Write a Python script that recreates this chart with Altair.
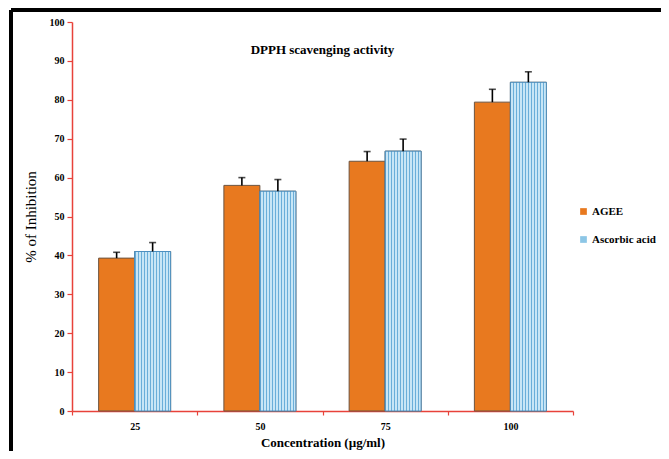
import altair as alt
import pandas as pd

conc = ["25", "50", "75", "100"]
agee = [39.3, 58.0, 64.2, 79.4]
agee_err = [1.5, 2.0, 2.5, 3.3]
asc = [41.0, 56.5, 66.8, 84.5]
asc_err = [2.3, 3.0, 3.1, 2.7]
series = ["AGEE", "Ascorbic acid"]

rows = []
for i, c in enumerate(conc):
    rows.append({"conc": c, "series": series[0], "val": agee[i], "top": agee[i] + agee_err[i]})
    rows.append({"conc": c, "series": series[1], "val": asc[i], "top": asc[i] + asc_err[i]})
df = pd.DataFrame(rows)

RED = "#E8423A"
ORANGE = "#E8791F"
BLUE = "#8CC6E6"
SERIF = "Liberation Serif"

# vertical stripe gradient for the grid-patterned bars
stops = []
n = 12
for i in range(n):
    a = i / n
    b = (i + 0.35) / n
    c = (i + 1) / n
    stops += [
        {"offset": a, "color": "#6AAED9"},
        {"offset": b, "color": "#6AAED9"},
        {"offset": b, "color": "#C8E6F6"},
        {"offset": c, "color": "#C8E6F6"},
    ]
grad = {"gradient": "linear", "x1": 0, "x2": 1, "y1": 0, "y2": 0, "stops": stops}

x = alt.X("conc:N", sort=conc, title="Concentration (µg/ml)",
          scale=alt.Scale(paddingInner=0, paddingOuter=0))
xo = alt.XOffset("series:N", sort=series,
                 scale=alt.Scale(paddingInner=0, paddingOuter=0.74))
yscale = alt.Scale(domain=[0, 100], nice=False)
y = alt.Y("val:Q", scale=yscale, title="% of Inhibition")

bars = alt.Chart(df).mark_bar(stroke="#6B5440", strokeWidth=1).encode(
    x=x, xOffset=xo, y=y,
    color=alt.Color("series:N", sort=series,
                    scale=alt.Scale(domain=series, range=[ORANGE, BLUE]),
                    legend=alt.Legend(title=None, orient="none", legendX=506, legendY=184,
                                      symbolType="square", symbolSize=45,
                                      symbolStrokeWidth=0, labelFont=SERIF,
                                      labelFontWeight="bold", labelFontSize=11,
                                      labelOffset=3, rowPadding=16, labelColor="black")),
)

stripes = alt.Chart(df).transform_filter(alt.datum.series == "Ascorbic acid").mark_bar(
    fill=grad, stroke="#4D8FBF", strokeWidth=1).encode(x=x, xOffset=xo, y=y)

err = alt.Chart(df).mark_rule(color="black", strokeWidth=1.6).encode(
    x=x, xOffset=xo, y=y, y2="top:Q")
cap = alt.Chart(df).mark_tick(color="black", thickness=1.6, size=7, orient="horizontal").encode(
    x=x, xOffset=xo, y=alt.Y("top:Q", scale=yscale, title="% of Inhibition"))

frame_l = alt.Chart(df).mark_rule(color="black", strokeWidth=3).encode(
    x=alt.value(-61), y=alt.value(-12), y2=alt.value(460))
frame_t = alt.Chart(df).mark_rule(color="black", strokeWidth=3).encode(
    x=alt.value(-61), x2=alt.value(620), y=alt.value(-12))

chart = alt.layer(bars, stripes, err, cap, frame_l, frame_t).properties(
    width=501, height=389,
    title=alt.TitleParams("DPPH scavenging activity", font=SERIF, fontWeight="bold",
                          fontSize=13, color="black", anchor="middle", dy=52),
    autosize=alt.AutoSizeParams(type="none"),
    padding={"left": 64, "top": 14, "right": 88, "bottom": 40},
).configure_view(stroke=None).configure_axis(
    grid=False, domainColor=RED, tickColor=RED, domainWidth=1.5, tickWidth=1.2,
    labelFont=SERIF, labelFontWeight="bold", labelFontSize=10, labelColor="black",
    titleFont=SERIF, titleColor="black",
).configure_axisY(
    tickCount=10, labelOverlap=False, tickSize=5, labelPadding=3,
    titleFontWeight="normal", titleFontSize=15, titlePadding=11,
).configure_axisX(
    labelAngle=0, tickBand="extent", tickSize=4, labelPadding=6,
    titleFontWeight="bold", titleFontSize=13, titlePadding=5,
)

chart.save("out.html", embed_options={"renderer": "svg", "actions": False})
